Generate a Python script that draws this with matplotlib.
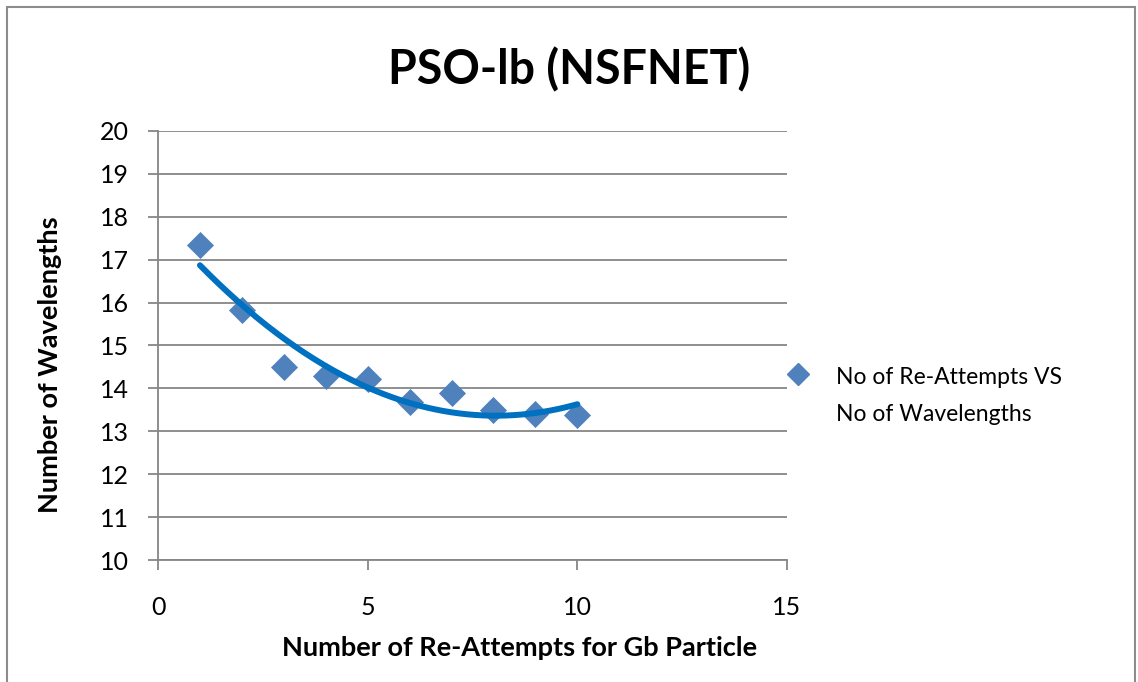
import numpy as np
import matplotlib
matplotlib.use("Agg")
import matplotlib.pyplot as plt
from matplotlib.patches import Rectangle

# Re-attempt counts and resulting wavelength counts
attempts = [1, 2, 3, 4, 5, 6, 7, 8, 9, 10]
wavelengths = [17.35, 15.82, 14.50, 14.29, 14.23, 13.68, 13.90, 13.50, 13.40, 13.38]

x_ticks = [0, 5, 10, 15]
y_ticks = [10, 11, 12, 13, 14, 15, 16, 17, 18, 19, 20]

title = "PSO-lb (NSFNET)"
x_label = "Number of Re-Attempts for Gb Particle"
y_label = "Number of Wavelengths"
series_label = "No of Re-Attempts VS\nNo of Wavelengths"

plt.rcParams['font.family'] = ['Lato', 'DejaVu Sans']

W, H = 1138, 682
fig = plt.figure(figsize=(W / 100, H / 100), dpi=100)

# chart frame
fig.patches.append(Rectangle((7 / W, -0.01), (1135 - 7) / W, (H - 7) / H + 0.01,
                             transform=fig.transFigure, fill=False,
                             edgecolor="#8c8c8c", linewidth=1.5))

ax = fig.add_axes([158 / W, 1 - 560 / H, (787 - 158) / W, (560 - 131) / H])
ax.set_xlim(0, 15)
ax.set_ylim(10, 20)
ax.set_xticks(x_ticks)
ax.set_yticks(y_ticks)

grid_col = "#868686"
ax.yaxis.grid(True, color=grid_col, linewidth=1.3)
ax.set_axisbelow(True)
for s in ("top", "right"):
    ax.spines[s].set_visible(False)
for s in ("left", "bottom"):
    ax.spines[s].set_color(grid_col)
    ax.spines[s].set_linewidth(1.3)
ax.tick_params(axis="both", colors=grid_col, labelcolor="black",
               labelsize=18, width=1.3, length=7, direction="out")
ax.tick_params(axis="x", pad=19)
ax.tick_params(axis="y", pad=14)

# second-order polynomial trend line
coef = np.polyfit(attempts, wavelengths, 2)
xs = np.linspace(attempts[0], attempts[-1], 200)
ax.plot(xs, np.polyval(coef, xs), color="#0070C0", linewidth=4.3,
        solid_capstyle="round", zorder=3)

ax.scatter(attempts, wavelengths, marker="D", s=190, color="#4F81BD",
           linewidths=0, zorder=2, label=series_label)

ax.set_xlabel(x_label, fontsize=19.5, fontweight="bold", va="center")
ax.xaxis.set_label_coords((520 - 158) / 629, -(648 - 560) / 429)
ax.set_ylabel(y_label, fontsize=19.5, fontweight="bold", va="center")
ax.yaxis.set_label_coords((50 - 158) / 629, (560 - 365) / 429)
fig.text(569 / W, 1 - 70 / H, title, ha="center", va="center",
         fontsize=33.5, fontweight="bold")

# legend entry
fig.lines.append(plt.Line2D([798 / W], [1 - 374 / H], marker="D",
                            markersize=11, color="#4F81BD", linestyle="none",
                            transform=fig.transFigure))
fig.text(836 / W, 1 - 396 / H, series_label, ha="left", va="center",
         fontsize=16.5, linespacing=1.95)

fig.savefig("out.png", dpi=100)
